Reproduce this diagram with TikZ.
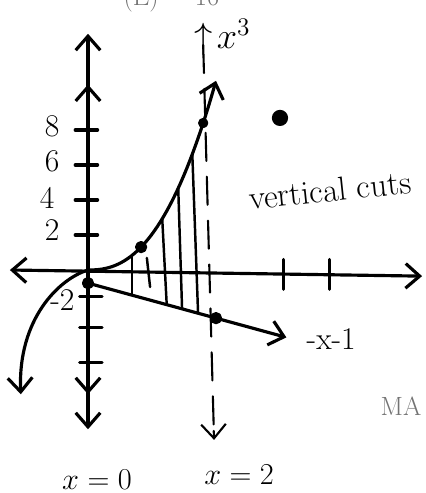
\documentclass[tikz,border=0pt]{standalone}
\usetikzlibrary{arrows.meta}
\begin{document}
\begin{tikzpicture}[x=1.28cm, y=0.35cm, >={Straight Barb[length=8pt,width=14pt]},
    line width=1.8pt, line cap=round, line join=round,
    hand/.style={font=\fontsize{18}{20}\selectfont},
    scan/.style={text=black!55, font=\fontsize{15}{17}\selectfont, anchor=base},
    guide/.style={line width=1.2pt, dash pattern=on 16pt off 9pt},
    cut/.style={line width=1.4pt}]
    \def\a{2.05}
    \def\p{2.4}
    \useasboundingbox (-1.375,-12.743) rectangle (5.266,15.429);

    % Text of the scanned page
    \node[scan] (ptop) at (0.83,15.14) {(E)};
    \node[scan] (pnum) at (1.86,15.14) {16};
    \node[scan] (pma) at (4.89,-8.29) {MA};

    % Axes
    \coordinate (O) at (0,0);
    \coordinate (xl) at (-1.22,0);
    \coordinate (xr) at (5.22,-0.35);
    \coordinate (yt) at (0,13.5);
    \coordinate (yb) at (0,-9.1);
    \draw[<->] (xl) -- (xr);
    \draw[<->] (yb) -- (yt);
    \draw[->] (0,10) -- (0,10.6);
    \draw[->] (0,-6.5) -- (0,-7.1);

    % Ticks
    \foreach \t in {3.05,3.78}
        \draw (\t,0.6) -- (\t,-1.1);
    \foreach \v in {2,4,6,8}
        \draw (-0.2,\v) -- (0.15,\v);
    \foreach \v in {-1.5,-3.3,-5.3}
        \draw (-0.13,\v) -- (0.22,\v);
    \node[hand] (l8) at (-0.56,8.2) {8};
    \node[hand] (l6) at (-0.56,6.2) {6};
    \node[hand] (l4) at (-0.64,4.1) {4};
    \node[hand] (l2) at (-0.56,2.3) {2};
    \node[hand] (lm2) at (-0.4,-1.71) {-2};

    % Curve x^3
    \draw[->] (O) -- plot[domain=0.02:2.0, samples=40] (\x, {\a*\x^\p});
    \draw[->] (O) .. controls (-0.45,-0.5) and (-1.1,-2.8) .. (-1.05,-7.1);
    \node[hand, font=\fontsize{22}{24}\selectfont] (lcube) at (2.1,13.3) {$\uparrow\! x^3$};

    % Line -x-1
    \coordinate (la) at (0,-0.75);
    \coordinate (lb) at (2,-2.75);
    \coordinate (lc) at (3.1,-3.85);
    \draw[->] (la) -- (lc);
    \node[hand] (lline) at (3.8,-3.94) {-x-1};

    % Dashed line x=2
    \coordinate (gt) at (1.8,12.86);
    \coordinate (gb) at (1.97,-9.71);
    \draw[guide] (gt) -- (gb);
    \draw[->, line width=1.2pt] (1.965,-9.2) -- (gb);

    % Vertical cuts
    \foreach \s/\e in {0.69/0.69, 1.16/1.23, 1.41/1.47, 1.63/1.72}
        \draw[cut] (\s,{\a*\s^\p}) -- (\e,{-\e-0.75});
    \draw[cut] (0.92,0.69) -- (0.97,-0.97);

    % Points
    \filldraw (la) circle (0.09cm);
    \filldraw (lb) circle (0.09cm);
    \filldraw (0.83,1.31) circle (0.09cm);
    \filldraw (1.8,8.4) circle (0.07cm);
    \filldraw (3.0,8.69) circle (0.13cm);

    % Labels
    \node[hand, font=\fontsize{19}{21}\selectfont, rotate=6] (lcuts) at (3.78,4.57) {vertical cuts};
    \node[hand] (lx0) at (0.14,-12.0) {$x=0$};
    \node[hand] (lx2) at (2.36,-11.71) {$x=2$};
\end{tikzpicture}
\end{document}
